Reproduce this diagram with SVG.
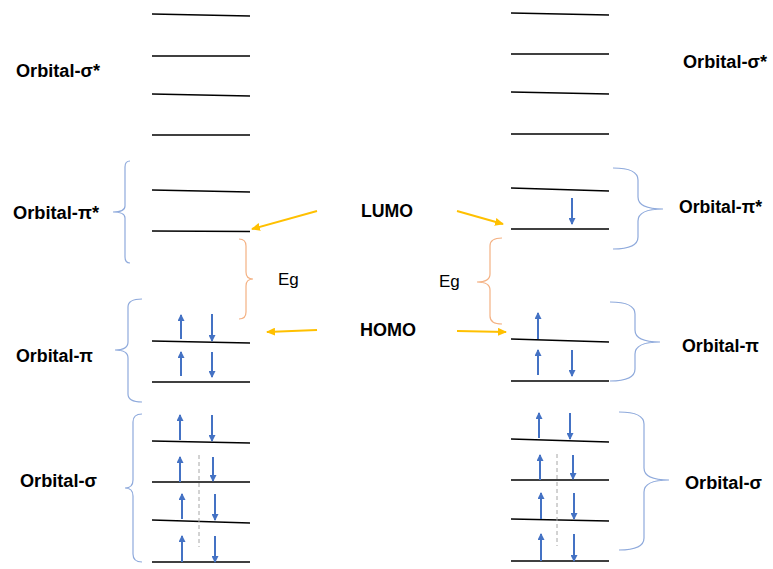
<svg xmlns="http://www.w3.org/2000/svg" width="773" height="569" viewBox="0 0 773 569">
<defs>
<marker id="eh" markerUnits="userSpaceOnUse" markerWidth="7" markerHeight="7" refX="6" refY="3.5" orient="auto"><path d="M0,0 L7,3.5 L0,7 z" fill="#4472C4"/></marker>
<marker id="yh" markerUnits="userSpaceOnUse" markerWidth="9" markerHeight="8" refX="8" refY="4" orient="auto"><path d="M0,0 L9,4 L0,8 z" fill="#FFC000"/></marker>
<style>
.lv{stroke:#000;stroke-width:1.6;fill:none}
.e{stroke:#4472C4;stroke-width:2;fill:none;marker-end:url(#eh)}
.br{stroke:#8FAADC;stroke-width:1.2;fill:none}
.bo{stroke:#F4B183;stroke-width:1.2;fill:none}
.ds{stroke:#A6A6A6;stroke-width:1;stroke-dasharray:4,3;fill:none}
.ya{stroke:#FFC000;stroke-width:2;fill:none;marker-end:url(#yh)}
.lb{font-family:"Liberation Sans",Arial,sans-serif;font-weight:bold;font-size:18px;fill:#000}
.eg{font-family:"Liberation Sans",Arial,sans-serif;font-size:17px;fill:#000}
</style>
</defs>
<rect width="773" height="569" fill="#fff"/>

<g id="left-levels">
<line class="lv" x1="152" y1="14" x2="250" y2="16"/>
<line class="lv" x1="152" y1="56" x2="250" y2="56"/>
<line class="lv" x1="152" y1="94" x2="250" y2="96"/>
<line class="lv" x1="152" y1="135" x2="250" y2="135"/>
<line class="lv" x1="152" y1="190" x2="250" y2="192"/>
<line class="lv" x1="152" y1="231" x2="250" y2="231.5"/>
<line class="lv" x1="152" y1="341" x2="250" y2="343"/>
<line class="lv" x1="152" y1="382" x2="250" y2="382"/>
<line class="lv" x1="152" y1="441" x2="250" y2="443"/>
<line class="lv" x1="152" y1="482" x2="250" y2="482"/>
<line class="lv" x1="152" y1="520" x2="250" y2="523"/>
<line class="lv" x1="152" y1="562" x2="250" y2="562"/>
</g>

<g id="right-levels">
<line class="lv" x1="511" y1="13" x2="609" y2="15"/>
<line class="lv" x1="511" y1="54" x2="609" y2="54"/>
<line class="lv" x1="511" y1="92" x2="609" y2="94"/>
<line class="lv" x1="511" y1="134" x2="609" y2="134"/>
<line class="lv" x1="511" y1="188" x2="609" y2="191"/>
<line class="lv" x1="511" y1="229" x2="609" y2="229"/>
<line class="lv" x1="511" y1="339" x2="609" y2="342"/>
<line class="lv" x1="511" y1="381" x2="609" y2="381"/>
<line class="lv" x1="511" y1="439" x2="609" y2="442"/>
<line class="lv" x1="511" y1="480" x2="609" y2="480"/>
<line class="lv" x1="511" y1="519" x2="609" y2="521"/>
<line class="lv" x1="511" y1="561" x2="609" y2="561"/>
</g>

<g id="left-electrons">
<line class="e" x1="181" y1="339" x2="181" y2="315"/>
<line class="e" x1="212" y1="314" x2="212" y2="341"/>
<line class="e" x1="181" y1="376" x2="181" y2="352"/>
<line class="e" x1="212" y1="352" x2="212" y2="377"/>
<line class="e" x1="180" y1="440" x2="180" y2="415"/>
<line class="e" x1="212" y1="415" x2="212" y2="441"/>
<line class="e" x1="180" y1="482" x2="180" y2="457"/>
<line class="e" x1="213" y1="457" x2="213" y2="481"/>
<line class="e" x1="182" y1="519" x2="182" y2="494"/>
<line class="e" x1="215" y1="494" x2="215" y2="520"/>
<line class="e" x1="182" y1="562" x2="182" y2="536"/>
<line class="e" x1="215" y1="536" x2="215" y2="562"/>
<line class="ds" x1="199" y1="455" x2="199" y2="547"/>
</g>

<g id="right-electrons">
<line class="e" x1="572" y1="198" x2="572" y2="224"/>
<line class="e" x1="538" y1="339" x2="538" y2="313"/>
<line class="e" x1="538" y1="375" x2="538" y2="350"/>
<line class="e" x1="572" y1="350" x2="572" y2="376"/>
<line class="e" x1="539" y1="438" x2="539" y2="413"/>
<line class="e" x1="570" y1="413" x2="570" y2="439"/>
<line class="e" x1="540" y1="480" x2="540" y2="455"/>
<line class="e" x1="573" y1="455" x2="573" y2="479"/>
<line class="e" x1="541" y1="519" x2="541" y2="493"/>
<line class="e" x1="574" y1="493" x2="574" y2="519"/>
<line class="e" x1="541" y1="561" x2="541" y2="534"/>
<line class="e" x1="574" y1="534" x2="574" y2="561"/>
<line class="ds" x1="557" y1="454" x2="557" y2="546"/>
</g>

<g id="left-sigma-star">
<text class="lb" x="16" y="77" textLength="84" lengthAdjust="spacingAndGlyphs">Orbital-σ*</text>
</g>
<g id="left-pi-star">
<path class="br" d="M130,161 Q125,161 125,167 L125,206 Q125,212 113,212 Q125,212 125,218 L125,257 Q125,263 130,263"/>
<text class="lb" x="13" y="219" textLength="86" lengthAdjust="spacingAndGlyphs">Orbital-π*</text>
</g>
<g id="left-pi">
<path class="br" d="M142,299 Q128,299 128,307 L128,342 Q128,350 115,350 Q128,350 128,358 L128,394 Q128,402 142,402"/>
<text class="lb" x="16" y="362" textLength="77" lengthAdjust="spacingAndGlyphs">Orbital-π</text>
</g>
<g id="left-sigma">
<path class="br" d="M142,414 Q133,414 133,422 L133,480 Q133,488 125,488 Q133,488 133,496 L133,554 Q133,562 142,562"/>
<text class="lb" x="20" y="487" textLength="77" lengthAdjust="spacingAndGlyphs">Orbital-σ</text>
</g>
<g id="left-eg">
<path class="bo" d="M239,239 Q246,239 246,246 L246,272 Q246,279 253,279 Q246,279 246,286 L246,312 Q246,319 239,319"/>
<text class="eg" x="278" y="285">Eg</text>
</g>

<g id="right-sigma-star">
<text class="lb" x="683" y="68" textLength="84" lengthAdjust="spacingAndGlyphs">Orbital-σ*</text>
</g>
<g id="right-pi-star">
<path class="br" d="M613,168 Q638,168 638,180 L638,197 Q638,209 663,209 Q638,209 638,221 L638,237 Q638,249 613,249"/>
<text class="lb" x="679" y="213" textLength="83" lengthAdjust="spacingAndGlyphs">Orbital-π*</text>
</g>
<g id="right-pi">
<path class="br" d="M610,302 Q635,302 635,314 L635,330 Q635,342 660,342 Q635,342 635,354 L635,369 Q635,381 610,381"/>
<text class="lb" x="682" y="352" textLength="77" lengthAdjust="spacingAndGlyphs">Orbital-π</text>
</g>
<g id="right-sigma">
<path class="br" d="M619,412 Q644,412 644,424 L644,468 Q644,480 669,480 Q644,480 644,492 L644,538 Q644,550 619,550"/>
<text class="lb" x="685" y="489" textLength="77" lengthAdjust="spacingAndGlyphs">Orbital-σ</text>
</g>
<g id="right-eg">
<path class="bo" d="M502,238 Q490,238 490,246 L490,274 Q490,282 477,282 Q490,282 490,290 L490,316 Q490,324 502,324"/>
<text class="eg" x="439" y="287">Eg</text>
</g>

<g id="lumo">
<text class="lb" x="361" y="217" textLength="52" lengthAdjust="spacingAndGlyphs">LUMO</text>
</g>
<g id="homo">
<text class="lb" x="360" y="336" textLength="56" lengthAdjust="spacingAndGlyphs">HOMO</text>
</g>

<g id="connectors">
<line class="ya" x1="317" y1="211" x2="252" y2="229"/>
<line class="ya" x1="317" y1="330" x2="267" y2="332"/>
<line class="ya" x1="457" y1="211" x2="503" y2="224"/>
<line class="ya" x1="457" y1="331" x2="506" y2="332"/>
</g>
</svg>
